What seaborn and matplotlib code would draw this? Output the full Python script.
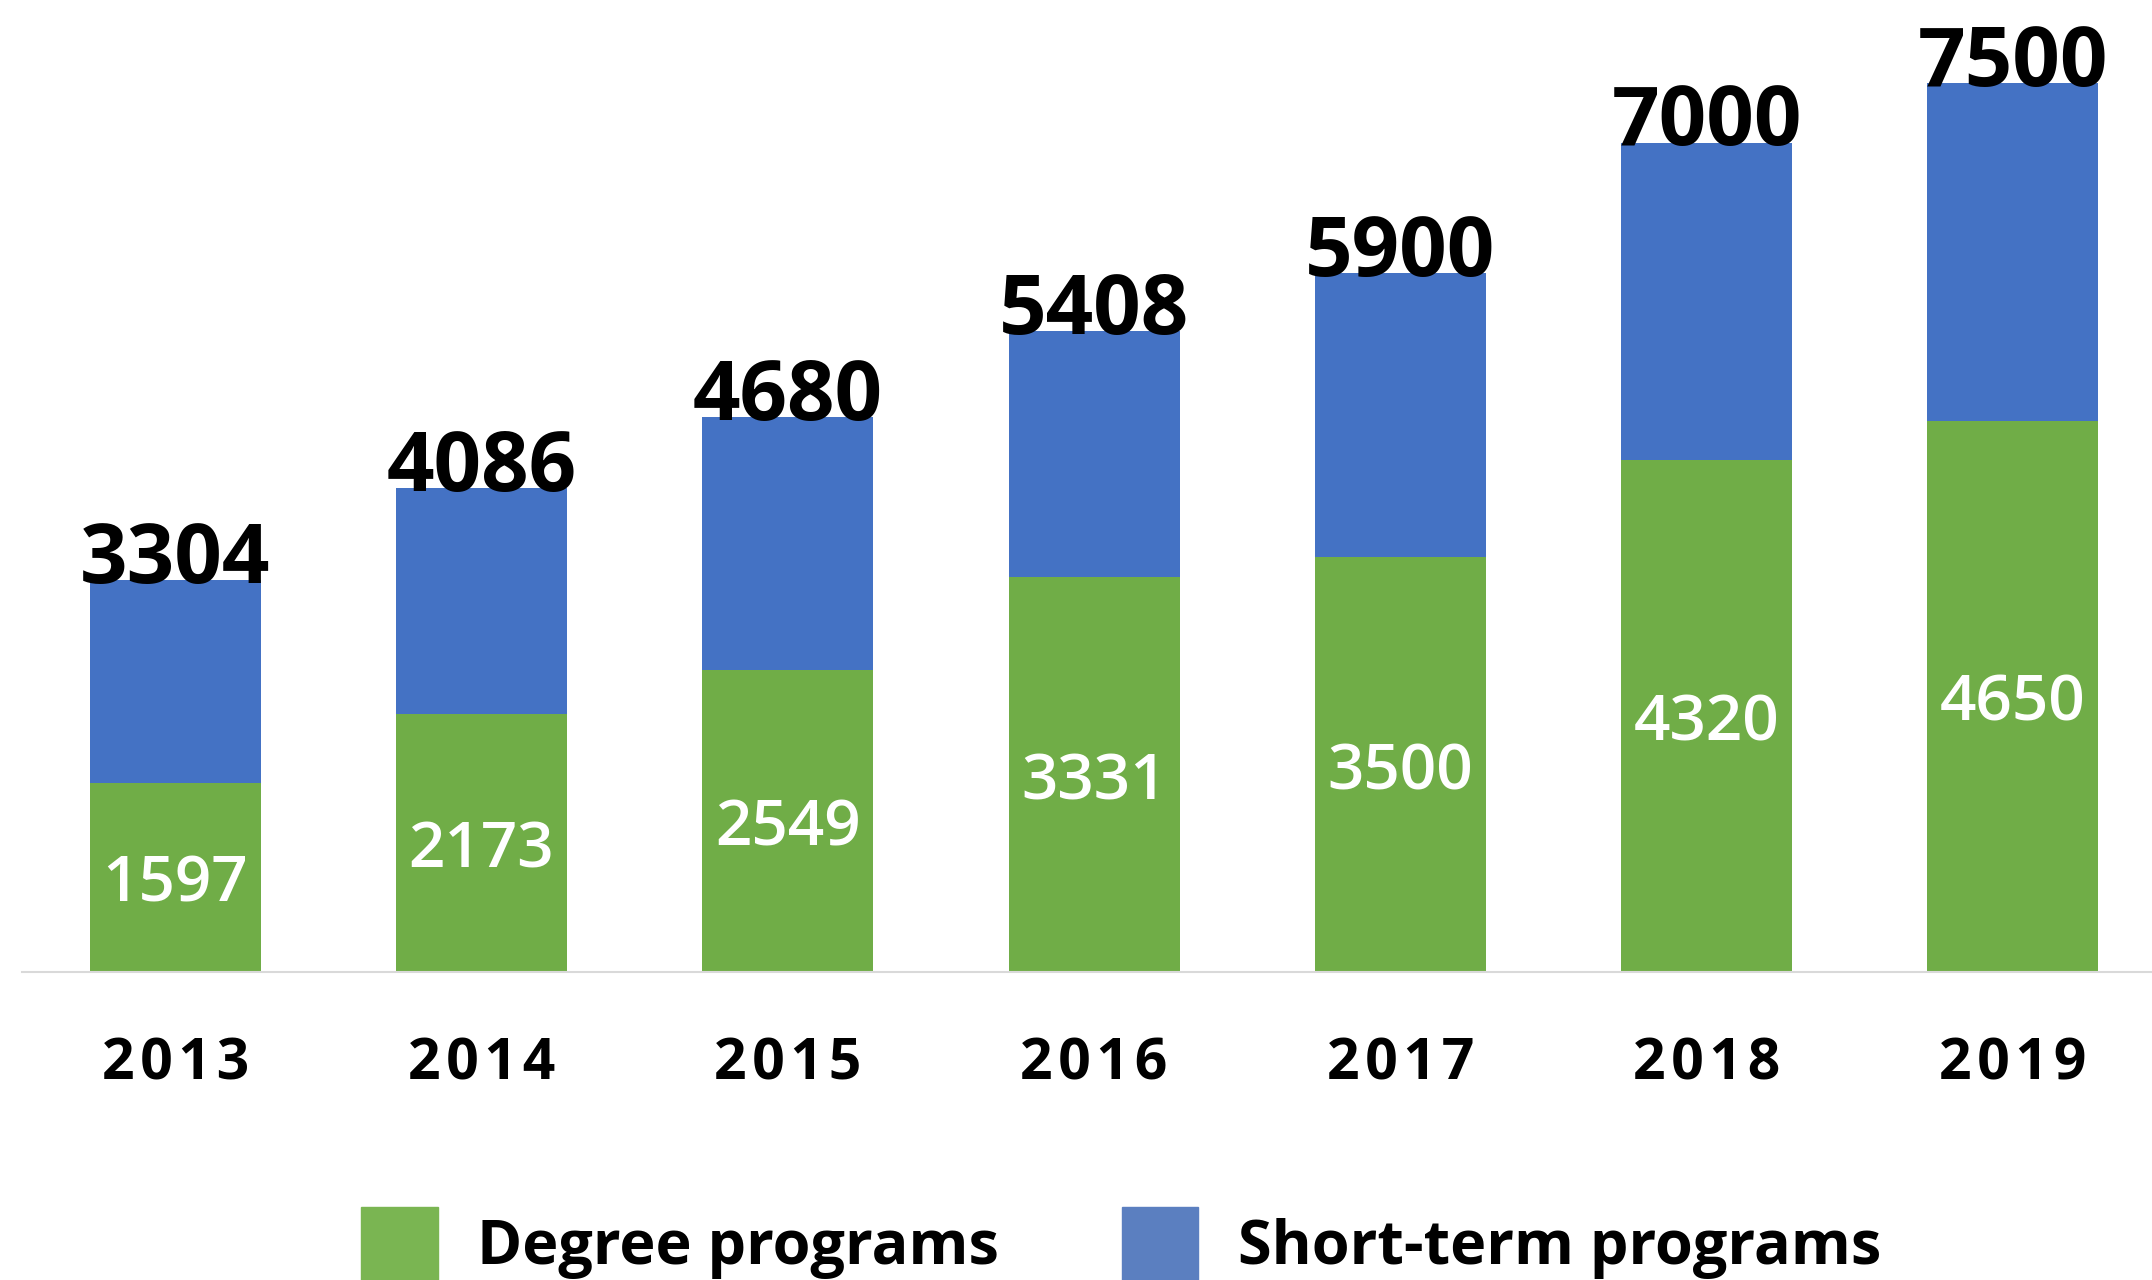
import matplotlib

matplotlib.use("Agg")
import matplotlib.pyplot as plt
import matplotlib.patches as mpatches
import pandas as pd
import seaborn as sns

YEARS = ["2013", "2014", "2015", "2016", "2017", "2018", "2019"]
DEGREE = [1597, 2173, 2549, 3331, 3500, 4320, 4650]
TOTAL = [3304, 4086, 4680, 5408, 5900, 7000, 7500]
SERIES = ["Degree programs", "Short-term programs"]

GREEN = "#70AD47"
BLUE = "#4472C4"
GREEN_LEGEND = "#7AB552"
BLUE_LEGEND = "#5B7FC0"

W, H = 2152, 1280

sns.set_theme(style="white")
plt.rcParams["font.family"] = ["Open Sans", "DejaVu Sans"]
plt.rcParams["text.color"] = "black"

df = pd.DataFrame({"year": YEARS, "degree": DEGREE, "total": TOTAL})

fig = plt.figure(figsize=(W / 100, H / 100), dpi=100)
ax = fig.add_axes([22 / W, 1 - 972 / H, (W - 22) / W, 972 / H])

# stacked: full total in blue, degree part drawn over it in green
sns.barplot(data=df, x="year", y="total", color=BLUE, width=0.558,
            saturation=1, ax=ax, linewidth=0)
sns.barplot(data=df, x="year", y="degree", color=GREEN, width=0.558,
            saturation=1, ax=ax, linewidth=0)

ax.set_xlim(-0.5, -0.5 + (W - 22) / 306.3)
ax.set_ylim(0, 972 / 0.1185)

for i, row in df.iterrows():
    ax.annotate(f"{row['total']}", (i, row["total"]), xytext=(0, -3),
                textcoords="offset pixels", ha="center", va="baseline",
                fontsize=60, fontweight="bold", color="black")
    ax.annotate(f"{row['degree']}", (i, row["degree"] / 2), xytext=(0, -8),
                textcoords="offset pixels", ha="center", va="center",
                fontsize=46, fontweight="semibold", color="white")

ax.set_xlabel("")
ax.set_ylabel("")
ax.set_yticks([])
ax.set_xticks(range(len(YEARS)))
ax.set_xticklabels(["\u200a".join(y) for y in YEARS], fontsize=41,
                   fontweight="bold", color="black")
ax.tick_params(axis="x", length=0, pad=46)
for side in ["left", "right", "top"]:
    ax.spines[side].set_visible(False)
ax.spines["bottom"].set_color("#D9D9D9")
ax.spines["bottom"].set_linewidth(1.5)

handles = [mpatches.Patch(color=GREEN_LEGEND, label=SERIES[0]),
           mpatches.Patch(color=BLUE_LEGEND, label=SERIES[1])]
fig.legend(handles=handles, loc="center", bbox_to_anchor=(0.521, 0.028),
           ncol=2, frameon=False, labelcolor="black",
           prop={"size": 44, "weight": "bold"},
           handlelength=1.25, handleheight=1.5, handletextpad=0.65,
           columnspacing=2.0)

fig.savefig("out.png", dpi=100)
